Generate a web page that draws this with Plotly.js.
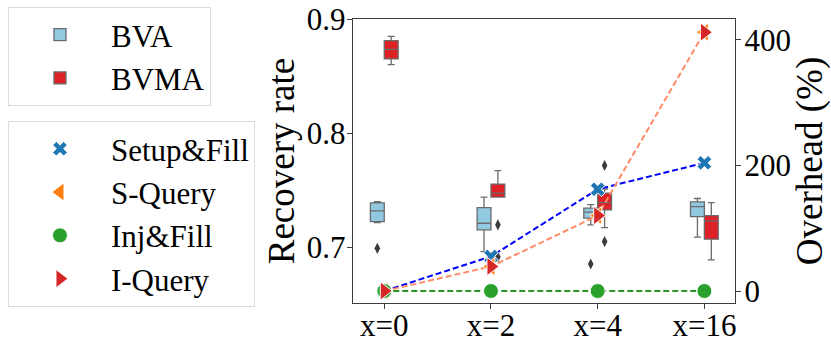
<!DOCTYPE html>
<html>
<head>
<meta charset="utf-8">
<script src="https://cdn.plot.ly/plotly-3.0.1.min.js"></script>
<style>
  html, body { margin: 0; padding: 0; background: #fff; }
  #chart { width: 831px; height: 348px; }
</style>
</head>
<body>
<div id="chart"></div>
<script>
// Category labels on the x axis
const groups = ['x=0', 'x=2', 'x=4', 'x=16'];
const groupIdx = [0, 1, 2, 3];

// Recovery rate box stats (left axis)
const bvaLower = [0.7216, 0.6961, 0.7196, 0.7088];
const bvaQ1 = [0.7225, 0.7152, 0.7254, 0.7268];
const bvaMedian = [0.7318, 0.7210, 0.7307, 0.7356];
const bvaQ3 = [0.7389, 0.7347, 0.7342, 0.7397];
const bvaUpper = [0.7400, 0.7439, 0.7374, 0.7427];

const bvmaLower = [0.8600, 0.7439, 0.7172, 0.6889];
const bvmaQ1 = [0.8650, 0.7439, 0.7327, 0.7070];
const bvmaMedian = [0.8733, 0.7474, 0.7390, 0.7231];
const bvmaQ3 = [0.8810, 0.7553, 0.7474, 0.7277];
const bvmaUpper = [0.8847, 0.7672, 0.7510, 0.7390];

// Outliers (group index, value)
const bvaOutGroup = [0, 2];
const bvaOutValue = [0.6990, 0.6853];
const bvmaOutGroup = [1, 1, 2, 2];
const bvmaOutValue = [0.7196, 0.6915, 0.7716, 0.7049];

// Overhead (%) on the right axis
const setupFill = [0, 55, 162, 204];
const sQuery = [0, 39, 120, 412];
const injFill = [0, 0, 0, 0];
const iQuery = [0, 39, 120, 412];

const serif = '"Liberation Serif", "Times New Roman", serif';
const boxShift = 0.065;

function boxTrace(name, fill, lower, q1, med, q3, upper) {
    return {
        type: 'box', name: name, x: groupIdx,
        lowerfence: lower, q1: q1, median: med, q3: q3, upperfence: upper,
        fillcolor: fill, line: { color: '#6b6b6b', width: 1.3 },
        whiskerwidth: 0.5, legend: 'legend', hoverinfo: 'y'
    };
}

function outlierTrace(grp, vals, shift) {
    return {
        type: 'scatter', mode: 'markers', showlegend: false,
        x: grp.map(g => g + shift), y: vals,
        marker: { symbol: 'diamond-tall', size: 8, color: '#3a3a3a' }
    };
}

function lineTrace(vals, color) {
    return {
        type: 'scatter', mode: 'lines', yaxis: 'y2', showlegend: false,
        x: groupIdx, y: vals, hoverinfo: 'skip',
        line: { color: color, width: 2, dash: '6px,3px' }
    };
}

function markerTrace(name, vals, symbol, color, size) {
    return {
        type: 'scatter', mode: 'markers', yaxis: 'y2', name: name,
        x: groupIdx, y: vals, legend: 'legend2',
        marker: { symbol: symbol, size: size, color: color, line: { color: '#fff', width: 1 } }
    };
}

const traces = [
    boxTrace('BVA', '#91c9e0', bvaLower, bvaQ1, bvaMedian, bvaQ3, bvaUpper),
    boxTrace('BVMA', '#dd2126', bvmaLower, bvmaQ1, bvmaMedian, bvmaQ3, bvmaUpper),
    outlierTrace(bvaOutGroup, bvaOutValue, -boxShift),
    outlierTrace(bvmaOutGroup, bvmaOutValue, boxShift),
    lineTrace(injFill, '#2a962a'),
    lineTrace(setupFill, '#0000ff'),
    lineTrace(sQuery, '#ff8c69'),
    markerTrace('Setup&Fill', setupFill, 'x', '#1f77b4', 13),
    markerTrace('S-Query', sQuery, 'triangle-left', '#ff7f0e', 16),
    markerTrace('Inj&Fill', injFill, 'circle', '#2ca02c', 15),
    markerTrace('I-Query', iQuery, 'triangle-right', '#d62728', 16)
];

const axisLine = { showline: true, linecolor: '#3c3c3c', linewidth: 1.3 };

function legendBox(top) {
    return {
        xref: 'container', yref: 'container', x: 0.0096, y: top,
        xanchor: 'left', yanchor: 'top', maxheight: 300,
        bordercolor: '#dcdcdc', borderwidth: 1, bgcolor: '#fff',
        itemwidth: 92, font: { family: serif, size: 31 }
    };
}

const layout = {
    width: 831, height: 348,
    margin: { l: 353, r: 96, t: 19, b: 45, autoexpand: false },
    paper_bgcolor: '#fff', plot_bgcolor: '#fff',
    font: { family: serif, size: 31, color: '#000' },
    boxmode: 'group', boxgap: 0.74, boxgroupgap: 0,
    xaxis: Object.assign({}, axisLine, {
        range: [-0.293, 3.287], tickvals: groupIdx, ticktext: groups,
        showgrid: false, zeroline: false, mirror: true,
        ticks: 'outside', ticklen: 5, tickcolor: '#3c3c3c', ticklabelstandoff: -11
    }),
    yaxis: Object.assign({}, axisLine, {
        title: { text: 'Recovery rate', standoff: 0 },
        range: [0.6511, 0.9], tickvals: [0.7, 0.8, 0.9],
        showgrid: false, zeroline: false,
        ticks: 'outside', ticklen: 5, tickcolor: '#3c3c3c', ticklabelstandoff: -5
    }),
    yaxis2: Object.assign({}, axisLine, {
        title: { text: 'Overhead (%)', standoff: 1 },
        overlaying: 'y', side: 'right',
        range: [-19.1, 433], tickvals: [0, 200, 400],
        showgrid: false, zeroline: false,
        ticks: 'outside', ticklen: 5, tickcolor: '#3c3c3c', ticklabelstandoff: -3
    }),
    legend: legendBox(0.98),
    legend2: legendBox(0.652),
    showlegend: true
};

Plotly.newPlot('chart', traces, layout, { displayModeBar: false, staticPlot: true });
</script>
</body>
</html>
